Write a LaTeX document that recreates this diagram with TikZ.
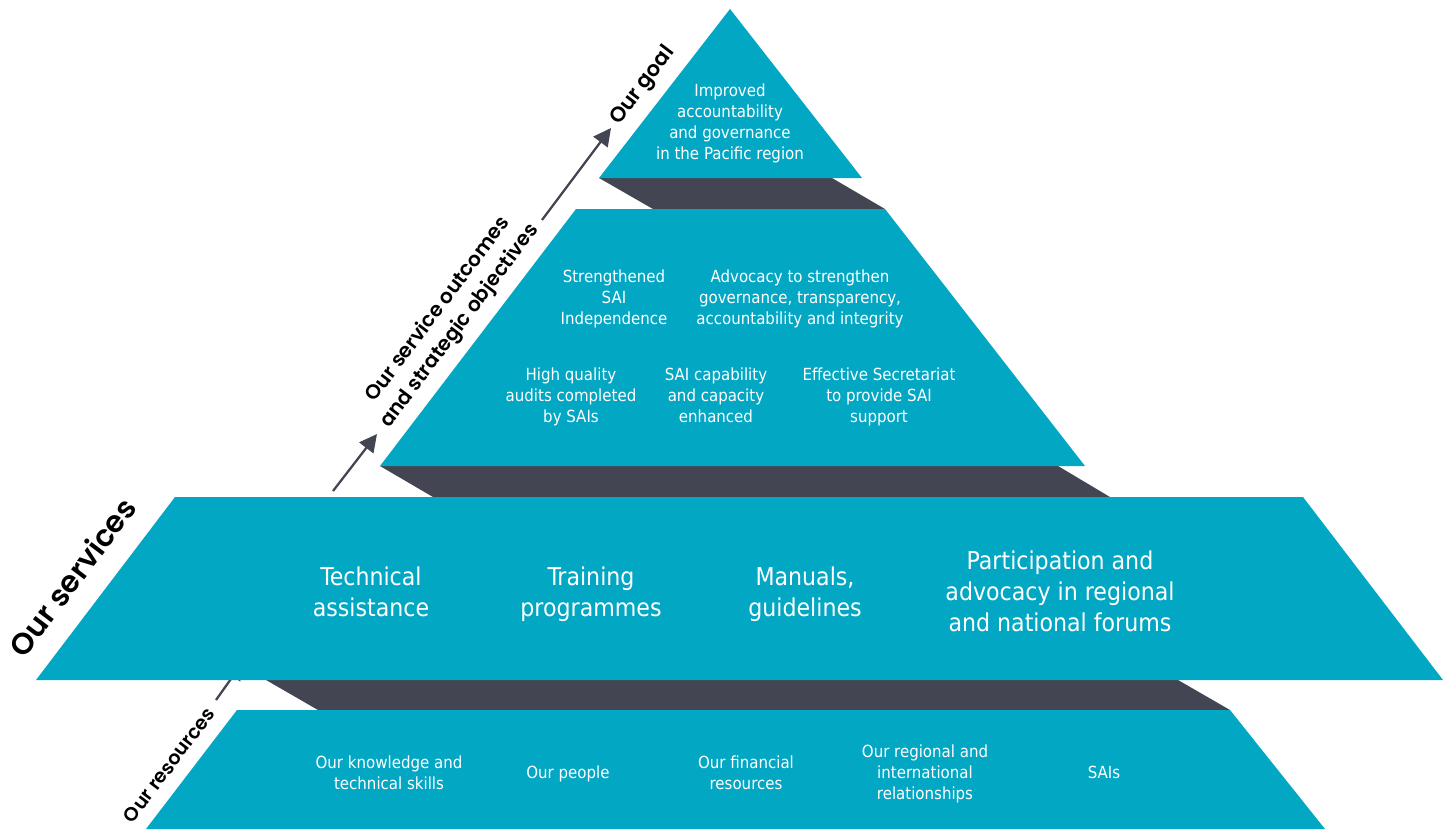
\documentclass[tikz,border=0pt]{standalone}
\usepackage{fontspec}
\setmainfont{DejaVuSansCondensed}[Extension=.ttf]
\newfontfamily\tagfont{Poppins}[UprightFont={* SemiBold}]
\usepackage{tikz}
\usetikzlibrary{arrows.meta}
\definecolor{pyrteal}{RGB}{2,167,196}
\definecolor{pyrdark}{RGB}{67,69,82}

\begin{document}
\begin{tikzpicture}[x=0.02cm, y=-0.02cm,
   layer/.style = {fill=pyrteal},
   band/.style = {fill=pyrdark},
   txt/.style = {text=white, align=center, font=\fontsize{9.5}{11.95}\selectfont},
   big/.style = {text=white, align=center, font=\fontsize{14}{17.6}\selectfont},
   tag/.style = {align=center, rotate=53, font=\tagfont\fontsize{11.5}{15.5}\selectfont},
   arrow/.style = {draw=pyrdark, line width=1.3pt, -{Triangle[length=10pt, width=10pt]}}]
   \useasboundingbox (0,0) rectangle (1451,829);

   % arrows go behind the layers
   \coordinate (g0) at (542,220);  \coordinate (g1) at (611,128);
   \coordinate (o0) at (333,491);  \coordinate (o1) at (377,434);
   \coordinate (r0) at (216,700);  \coordinate (r1) at (243,662);
   \draw[arrow] (g0) -- (g1);
   \draw[arrow] (o0) -- (o1);
   \draw[arrow] (r0) -- (r1);

   % shadows
   \fill[band] (599,178) -- (832,178) -- (885,209) -- (653,209) -- cycle;
   \fill[band] (380,466) -- (1058,466) -- (1110,497) -- (433,497) -- cycle;
   \fill[band] (266,680) -- (1178,680) -- (1230,710) -- (318,710) -- cycle;

   % layers
   \fill[layer] (730,9) -- (862,178) -- (599,178) -- cycle;
   \fill[layer] (576,209) -- (885,209) -- (1085,466) -- (380,466) -- cycle;
   \fill[layer] (175,497) -- (1303,497) -- (1443,680) -- (36,680) -- cycle;
   \fill[layer] (237,710) -- (1230,710) -- (1325,829) -- (146,829) -- cycle;

   \node[txt] (goal) at (730,123) {Improved\\accountability\\and governance\\in the Pacific region};

   \node[txt] (indep) at (614,299) {Strengthened\\SAI\\Independence};
   \node[txt] (advoc) at (800,299) {Advocacy to strengthen\\governance, transparency,\\accountability and integrity};
   \node[txt] (audit) at (571,397) {High quality\\audits completed\\by SAIs};
   \node[txt] (capab) at (716,395) {SAI capability\\and capacity\\enhanced};
   \node[txt] (secre) at (879,397) {Effective Secretariat\\to provide SAI\\support};

   \node[big] (techn) at (371,592) {Technical\\assistance};
   \node[big] (train) at (591,594) {Training\\programmes};
   \node[big] (manua) at (805,594) {Manuals,\\guidelines};
   \node[big] (forum) at (1060,591) {Participation and\\advocacy in regional\\and national forums};

   \node[txt] (knowl) at (389,773) {Our knowledge and\\technical skills};
   \node[txt] (peopl) at (568,774) {Our people};
   \node[txt] (finan) at (746,773) {Our financial\\resources};
   \node[txt] (relat) at (925,774) {Our regional and\\international\\relationships};
   \node[txt] (sais)  at (1104,772) {SAIs};

   \node[tag, font=\tagfont\fontsize{12}{14}\selectfont] (tgoal) at (643,86) {Our goal};
   \node[tag] (tout) at (449,318) {Our service outcomes\\and strategic objectives};
   \node[tag, font=\tagfont\fontsize{17}{20}\selectfont] (tserv) at (72,577) {Our services};
   \node[tag, font=\tagfont\fontsize{11}{13}\selectfont] (tres) at (169,765) {Our resources};
\end{tikzpicture}
\end{document}
